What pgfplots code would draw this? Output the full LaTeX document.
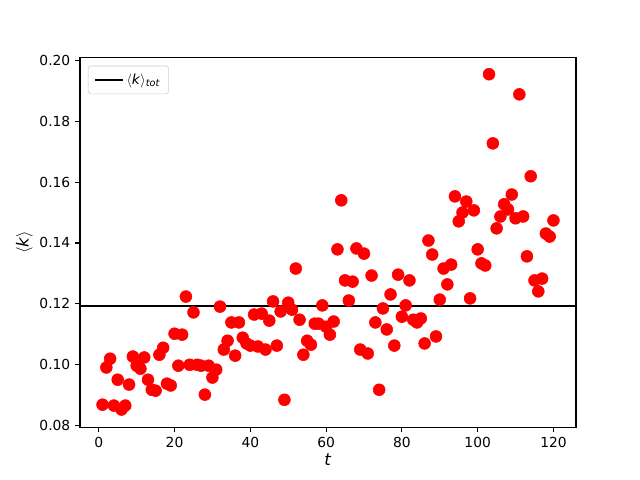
\documentclass[border=0pt]{standalone}
\usepackage{pgfplots}
\pgfplotsset{compat=1.18}
\usepackage{fontspec}
\setmainfont{DejaVu Sans}
\begin{document}
\begin{tikzpicture}
\path (-0.80in,-0.528in) rectangle (5.60in,4.272in);
\begin{axis}[
  at={(0,0)}, anchor=south west,
  scale only axis, width=4.96in, height=3.70in,
  xmin=-4.95, xmax=125.95, ymin=0.0795, ymax=0.2010,
  xtick={0,20,40,60,80,100,120},
  ytick={0.08,0.10,0.12,0.14,0.16,0.18,0.20},
  yticklabel style={/pgf/number format/.cd, fixed, fixed zerofill, precision=2},
  /pgf/number format/assume math mode=true,
  tick align=outside, tick pos=left,
  major tick length=3.5pt,
  every tick/.style={black, line width=0.8pt},
  axis line style={line width=0.8pt},
  ticklabel style={font=\fontsize{10}{12}\selectfont},
  xlabel={\fontsize{12}{14}\selectfont\textit{t}},
  ylabel={\fontsize{12}{14}\selectfont$\langle$\textit{k}$\rangle$},
  xlabel style={yshift=2pt},
  ylabel style={yshift=-2pt},
  legend style={at={(0.016,0.977)}, anchor=north west, draw=black!20, rounded corners=2pt, font=\fontsize{10}{12}\selectfont, inner xsep=4pt, inner ysep=3.5pt},
  legend cell align=left,
  legend image code/.code={\draw[#1] (0cm,0cm) -- (0.28in,0cm);},
]
\addplot[black, line width=1.5pt] coordinates {(-10,0.1192) (130,0.1192)};
\addlegendentry{$\langle$\textit{k}$\rangle$\textsubscript{\textit{tot}}}
\addplot[only marks, mark=*, mark size=4.3pt, color=red, fill=red, forget plot] coordinates {
(1,0.0869)(2,0.0991)(3,0.1020)(4,0.0866)(5,0.0951)(6,0.0853)(7,0.0866)(8,0.0935)(9,0.1027)(10,0.0997)
(11,0.0987)(12,0.1024)(13,0.0951)(14,0.0918)(15,0.0915)(16,0.1033)(17,0.1056)(18,0.0938)(19,0.0932)(20,0.1102)
(21,0.0997)(22,0.1099)(23,0.1224)(24,0.1000)(25,0.1172)(26,0.1000)(27,0.0997)(28,0.0902)(29,0.0997)(30,0.0958)
(31,0.0984)(32,0.1191)(33,0.1050)(34,0.1079)(35,0.1139)(36,0.1030)(37,0.1139)(38,0.1089)(39,0.1070)(40,0.1063)
(41,0.1165)(42,0.1060)(43,0.1168)(44,0.1050)(45,0.1145)(46,0.1208)(47,0.1063)(48,0.1175)(49,0.0885)(50,0.1204)
(51,0.1181)(52,0.1316)(53,0.1148)(54,0.1033)(55,0.1079)(56,0.1066)(57,0.1135)(58,0.1135)(59,0.1195)(60,0.1125)
(61,0.1099)(62,0.1142)(63,0.1379)(64,0.1540)(65,0.1277)(66,0.1211)(67,0.1273)(68,0.1382)(69,0.1050)(70,0.1365)
(71,0.1037)(72,0.1293)(73,0.1139)(74,0.0918)(75,0.1185)(76,0.1116)(77,0.1231)(78,0.1063)(79,0.1296)(80,0.1158)
(81,0.1195)(82,0.1277)(83,0.1148)(84,0.1139)(85,0.1152)(86,0.1070)(87,0.1408)(88,0.1362)(89,0.1093)(90,0.1214)
(91,0.1316)(92,0.1264)(93,0.1329)(94,0.1553)(95,0.1471)(96,0.1500)(97,0.1536)(98,0.1218)(99,0.1507)(100,0.1379)
(101,0.1333)(102,0.1326)(103,0.1954)(104,0.1727)(105,0.1448)(106,0.1487)(107,0.1527)(108,0.1510)(109,0.1559)(110,0.1481)
(111,0.1888)(112,0.1487)(113,0.1356)(114,0.1619)(115,0.1277)(116,0.1241)(117,0.1283)(118,0.1431)(119,0.1421)(120,0.1474)
};
\end{axis}
\end{tikzpicture}
\end{document}
